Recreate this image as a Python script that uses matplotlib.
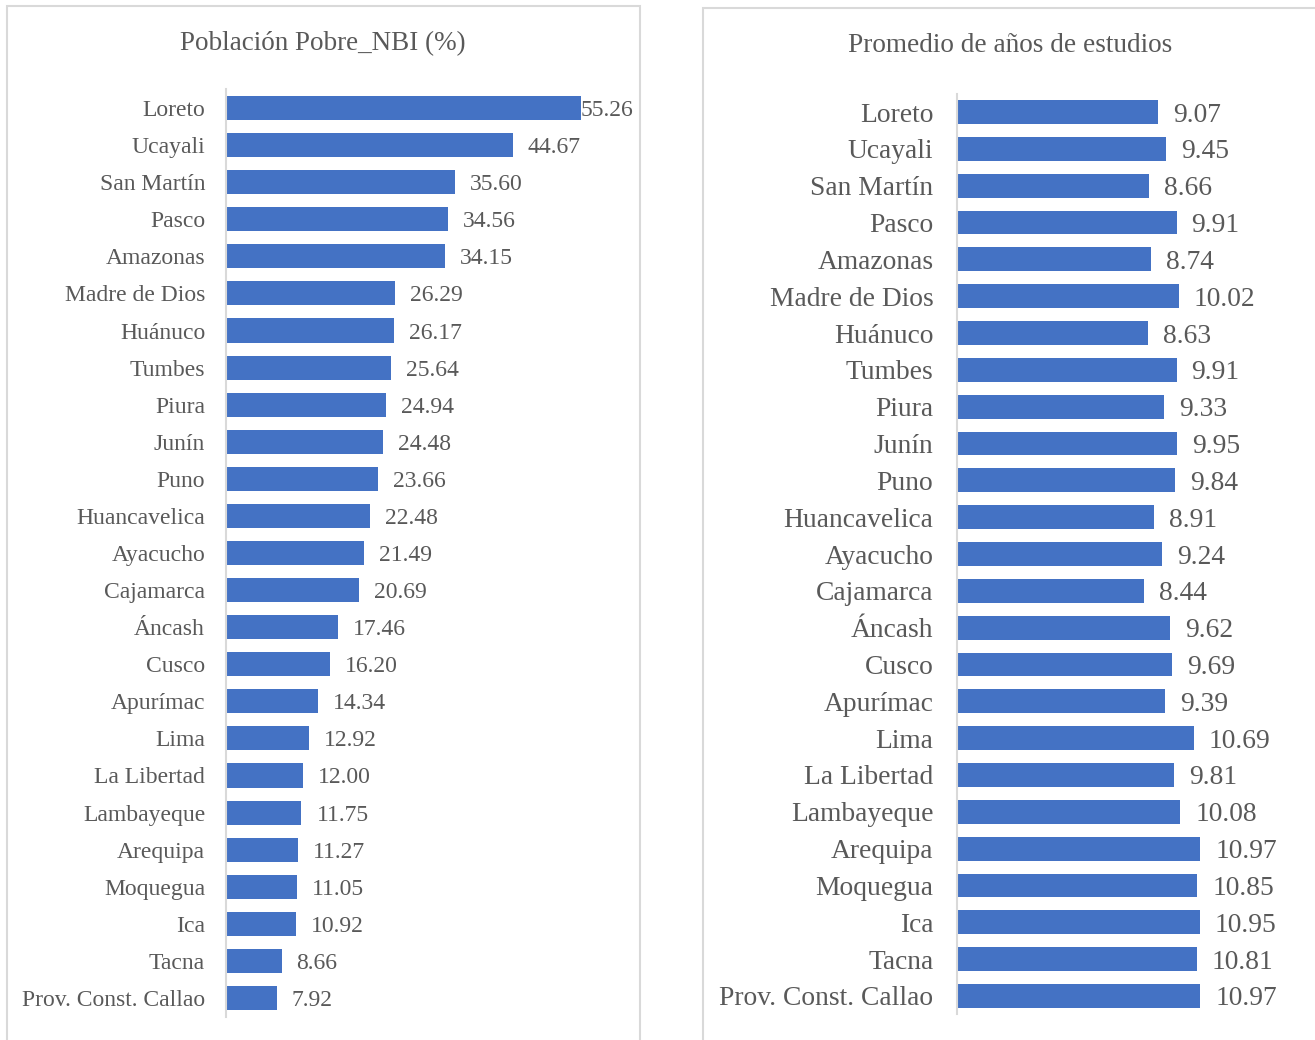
import matplotlib
matplotlib.use("Agg")
import matplotlib.pyplot as plt
from matplotlib.patches import Rectangle

# regions, top to bottom as in the reference
regions = ["Loreto", "Ucayali", "San Martín", "Pasco", "Amazonas", "Madre de Dios",
           "Huánuco", "Tumbes", "Piura", "Junín", "Puno", "Huancavelica", "Ayacucho",
           "Cajamarca", "Áncash", "Cusco", "Apurímac", "Lima", "La Libertad",
           "Lambayeque", "Arequipa", "Moquegua", "Ica", "Tacna", "Prov. Const. Callao"]

pobre_nbi = [55.26, 44.67, 35.60, 34.56, 34.15, 26.29, 26.17, 25.64, 24.94, 24.48,
             23.66, 22.48, 21.49, 20.69, 17.46, 16.20, 14.34, 12.92, 12.00, 11.75,
             11.27, 11.05, 10.92, 8.66, 7.92]

anios_estudio = [9.07, 9.45, 8.66, 9.91, 8.74, 10.02, 8.63, 9.91, 9.33, 9.95,
                 9.84, 8.91, 9.24, 8.44, 9.62, 9.69, 9.39, 10.69, 9.81, 10.08,
                 10.97, 10.85, 10.95, 10.81, 10.97]

BAR = "#4472C4"
TXT = "#595959"
GRID = "#D9D9D9"
W, H = 1315, 1040

plt.rcParams["font.family"] = ["Liberation Serif", "DejaVu Serif"]

fig = plt.figure(figsize=(W / 100, H / 100), dpi=100)


def px_axes(x0, y_top, width, y_bot):
    return fig.add_axes([x0 / W, 1 - y_bot / H, width / W, (y_bot - y_top) / H])


def frame(x0, y0, x1, y1):
    fig.patches.append(Rectangle((x0 / W, 1 - y1 / H), (x1 - x0) / W, (y1 - y0) / H,
                                 transform=fig.transFigure, fill=False,
                                 edgecolor=GRID, linewidth=1.5, clip_on=False))


def bar_panel(ax, values, xmax, font_size, pad, px_per_unit, squeeze_max=False):
    pos = list(range(len(regions)))
    ax.barh(pos, values, height=0.65, color=BAR)
    ax.set_ylim(len(regions) - 0.5, -0.5)
    ax.set_xlim(0, xmax)
    ax.set_yticks(pos)
    ax.set_yticklabels(regions, fontsize=font_size, color=TXT)
    ax.tick_params(axis="y", length=0, pad=pad)
    ax.set_xticks([])
    for s in ["top", "right", "bottom"]:
        ax.spines[s].set_visible(False)
    ax.spines["left"].set_color(GRID)
    ax.spines["left"].set_linewidth(1.5)
    vmax = max(values)
    for p, v in zip(pos, values):
        # the longest bar's label sits right on the bar end (no room in the frame)
        off = 0 if (squeeze_max and v == vmax) else 15 / px_per_unit
        ax.text(v + off, p, f"{v:.2f}", va="center_baseline", ha="left",
                fontsize=font_size, color=TXT, clip_on=False)
    ax.patch.set_alpha(0)


# left panel
frame(7, 6, 640, 1060)
ax1 = px_axes(226, 89.5, 400, 1016.5)
bar_panel(ax1, pobre_nbi, 400 / 6.42, 17, 15, 6.42, squeeze_max=True)
fig.text(323 / W, 1 - 44 / H, "Población Pobre_NBI (%)", ha="center", va="center",
         fontsize=19.5, color=TXT)

# right panel
frame(703, 8, 1330, 1060)
ax2 = px_axes(957, 93.6, 300, 1014.4)
bar_panel(ax2, anios_estudio, 300 / 22.16, 19.8, 17, 22.16)
fig.text(1010 / W, 1 - 46 / H, "Promedio de años de estudios", ha="center", va="center",
         fontsize=19.6, color=TXT)

fig.savefig("out.png", dpi=100)
